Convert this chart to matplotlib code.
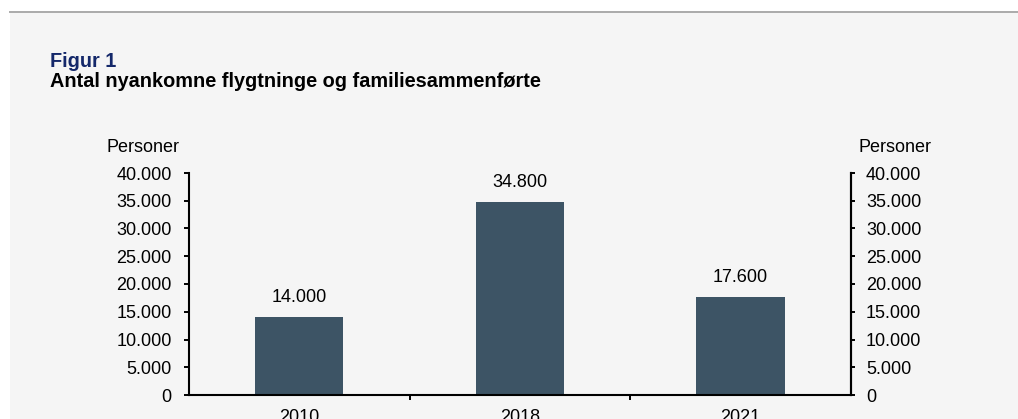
import matplotlib
matplotlib.use("Agg")
import matplotlib.pyplot as plt
from matplotlib.patches import Rectangle
from matplotlib.lines import Line2D
from matplotlib.ticker import FuncFormatter, FixedLocator

# Data
categories = ["2010", "2018", "2021"]
values = [14000, 34800, 17600]
y_ticks = [0, 5000, 10000, 15000, 20000, 25000, 30000, 35000, 40000]
title_fig = "Figur 1"
title_main = "Antal nyankomne flygtninge og familiesammenførte"
y_label = "Personer"

W, H = 1018, 419
plt.rcParams['font.family'] = ['Liberation Sans', 'DejaVu Sans']
fig = plt.figure(figsize=(W / 100, H / 100), dpi=100, facecolor='white')

def fx(px):
    return px / W

def fy(py):
    return 1 - py / H

# background panel and top rule
fig.patches.append(Rectangle((fx(10), 0), 1 - fx(10), fy(12), transform=fig.transFigure,
                             facecolor='#f5f5f5', edgecolor='none', zorder=-10))
fig.lines.append(Line2D([fx(10), 1], [fy(12), fy(12)], transform=fig.transFigure,
                        color='#aaaaaa', linewidth=1.4, zorder=-5))

fig.text(fx(50), fy(67), title_fig, fontsize=14.3, fontweight='bold', color='#14286a',
         ha='left', va='baseline')
fig.text(fx(50), fy(87), title_main, fontsize=14.3, fontweight='bold', color='black',
         ha='left', va='baseline')

left, right, y0, ytop = 189, 850.7, 395, 173
ax = fig.add_axes([fx(left), 1 - y0 / H, (right - left) / W, (y0 - ytop) / H])
ax.set_facecolor('none')

bar_color = '#3d5465'
x = list(range(len(categories)))
bars = ax.bar(x, values, width=0.4, color=bar_color, zorder=2)
for xi, v in zip(x, values):
    ax.annotate(f"{v:,}".replace(",", "."), (xi, v), xytext=(0, 10.8),
                textcoords='offset points', ha='center', va='baseline', fontsize=13)

ax.set_xlim(-0.5, 2.5)
ax.set_ylim(0, 40000)

fmt = FuncFormatter(lambda v, p: f"{int(v):,}".replace(",", "."))
ax.yaxis.set_major_locator(FixedLocator(y_ticks))
ax.yaxis.set_major_formatter(fmt)

ax.set_xticks(x)
ax.set_xticklabels(categories)
ax.set_xticks([0.5, 1.5], minor=True)
ax.tick_params(axis='x', which='major', length=0, pad=10, labelsize=13)
ax.tick_params(axis='x', which='minor', length=3.6, width=1.4, direction='out')
ax.tick_params(axis='y', which='major', length=3.6, width=1.4, direction='out', pad=8.9,
               labelsize=13)

for s in ['left', 'bottom', 'right']:
    ax.spines[s].set_linewidth(1.5)
    ax.spines[s].set_color('black')
ax.spines['top'].set_visible(False)
ax.spines['bottom'].set_zorder(3)

ax2 = ax.twinx()
ax2.set_ylim(0, 40000)
ax2.yaxis.set_major_locator(FixedLocator(y_ticks))
ax2.yaxis.set_major_formatter(fmt)
ax2.tick_params(axis='y', which='major', length=3.0, width=1.4, direction='out', pad=8.1,
                labelsize=13)
for s in ['left', 'bottom', 'top']:
    ax2.spines[s].set_visible(False)
ax2.spines['right'].set_linewidth(1.5)

fig.text(fx(143.5), fy(152), y_label, fontsize=13, ha='center', va='baseline')
fig.text(fx(894.5), fy(152), y_label, fontsize=13, ha='center', va='baseline')

fig.savefig("out.png", dpi=100, facecolor=fig.get_facecolor())
